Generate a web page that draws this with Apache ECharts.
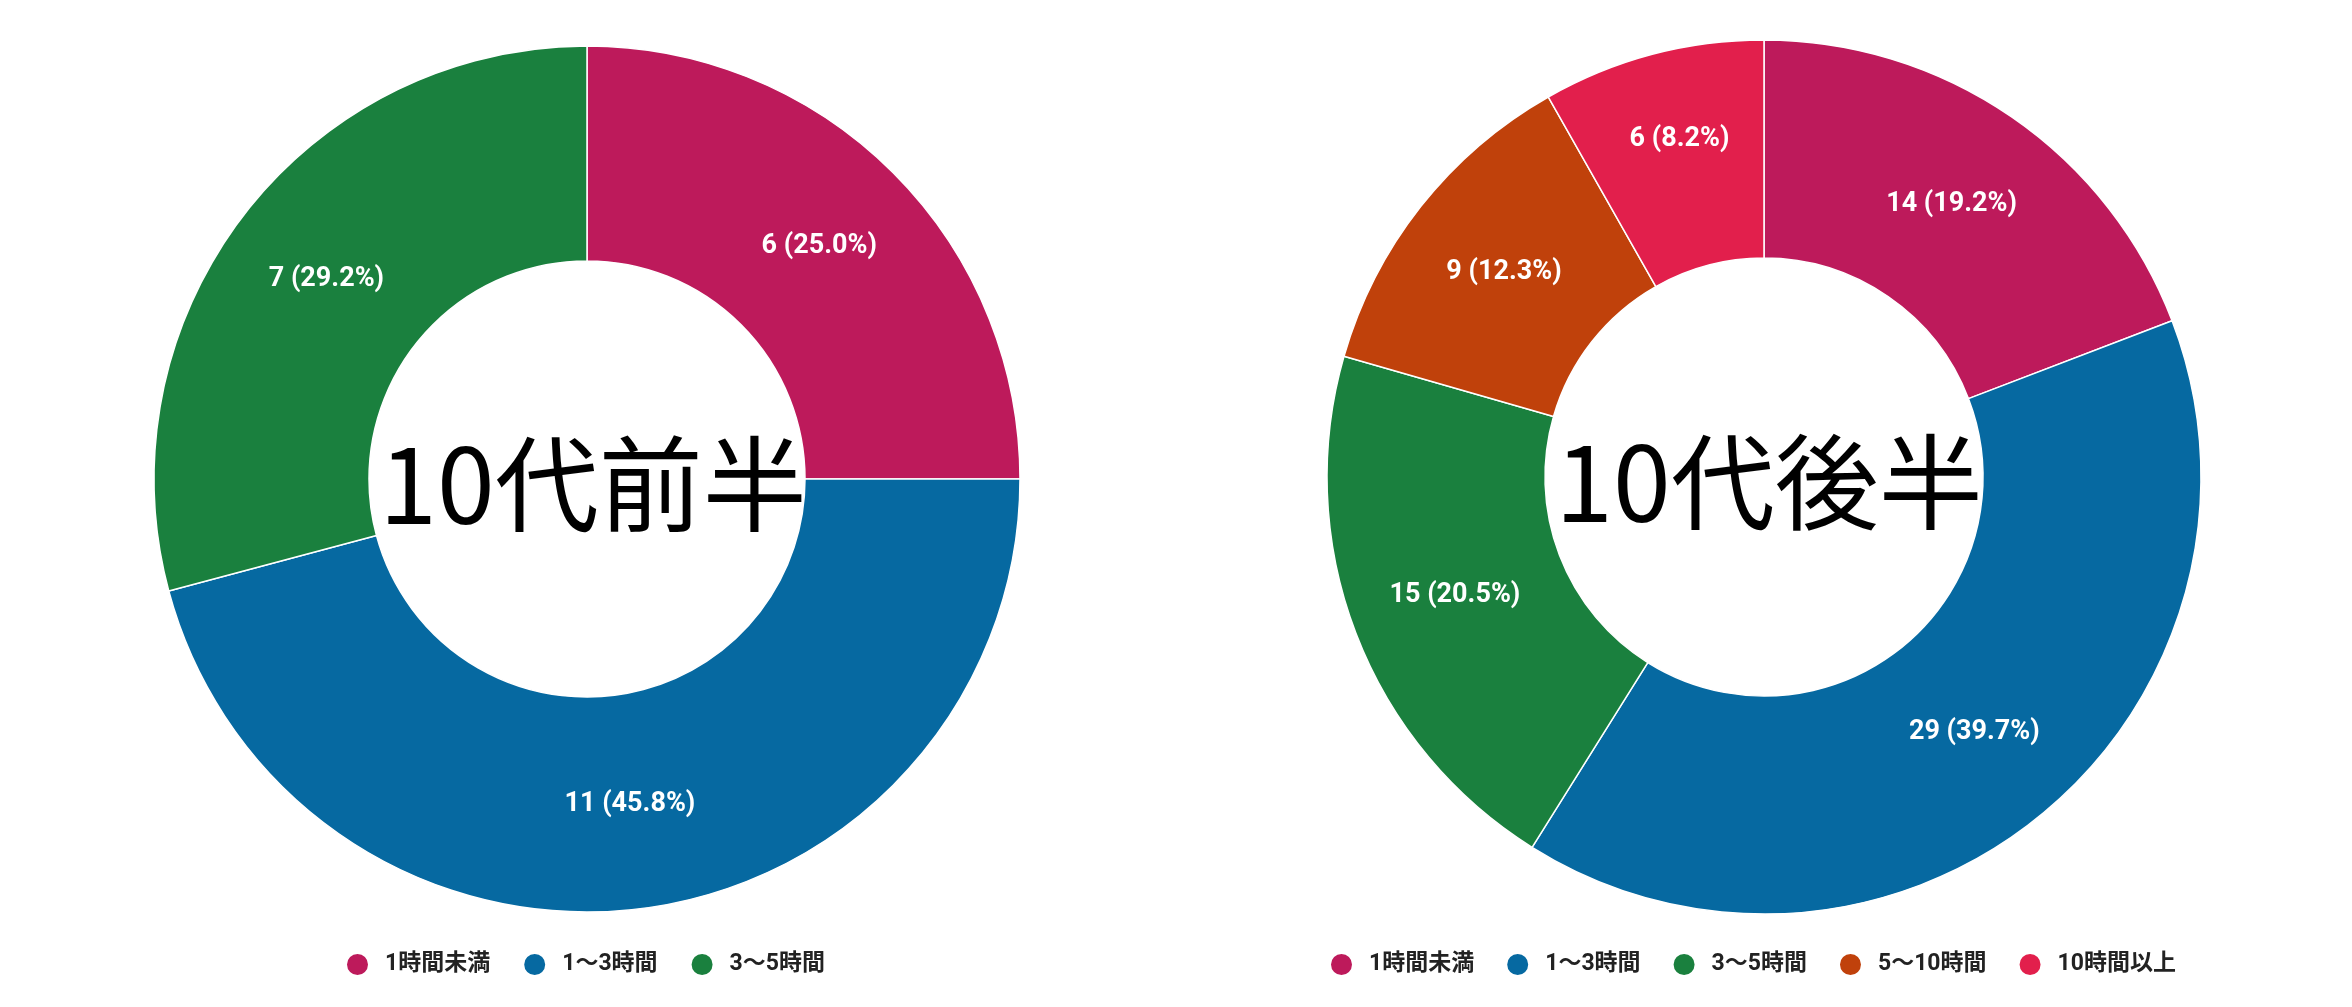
<!DOCTYPE html>
<html>
<head>
<meta charset="utf-8">
<script src="https://cdn.jsdelivr.net/npm/echarts@6/dist/echarts.min.js"></script>
<style>
html,body{margin:0;padding:0;background:#fff;}
#c{width:2352px;height:1007px;}
</style>
</head>
<body>
<div id="c"></div>
<script>
const categoriesLeft = ['1時間未満', '1〜3時間', '3〜5時間'];
const valuesLeft = [6, 11, 7];
const categoriesRight = ['1時間未満', '1〜3時間', '3〜5時間', '5〜10時間', '10時間以上'];
const valuesRight = [14, 29, 15, 9, 6];
const titleLeft = '10代前半';
const titleRight = '10代後半';
const colors = ['#BD1A5B', '#0669A1', '#1A803E', '#C0410B', '#E21F4C'];

const chart = echarts.init(document.getElementById('c'), null, {renderer: 'canvas'});

function makeData(cats, vals) {
  return cats.map((n, i) => ({name: n, value: vals[i], itemStyle: {color: colors[i]}}));
}
function makeFormatter(vals) {
  const sum = vals.reduce((a, b) => a + b, 0);
  return p => p.value + ' (' + (p.value / sum * 100).toFixed(1) + '%)';
}
const labelStyle = {
  show: true, position: 'inside', color: '#fff', fontWeight: 'bold',
  fontSize: 27, fontFamily: 'Roboto, "Noto Sans CJK JP", sans-serif'
};
const legendText = {
  color: '#222', fontWeight: 'bold', fontSize: 23,
  fontFamily: 'Roboto, "Noto Sans CJK JP", sans-serif',
  padding: [0, 0, 0, 11]
};
const titleText = {
  color: '#000', fontSize: 104, fontWeight: 'normal',
  fontFamily: '"Noto Sans CJK JP", sans-serif'
};

const rightFmt = makeFormatter(valuesRight);
const rightData = makeData(categoriesRight, valuesRight);
// the narrow last slice has its label placed further out in the reference
rightData[4].label = {formatter: p => rightFmt(p) + '\n', lineHeight: 36};

chart.setOption({
  animation: false,
  backgroundColor: '#fff',
  title: [
    {text: titleLeft, left: 588, top: 479, textAlign: 'center', textVerticalAlign: 'middle', textStyle: titleText},
    {text: titleRight, left: 1764, top: 477, textAlign: 'center', textVerticalAlign: 'middle', textStyle: titleText}
  ],
  legend: [
    {data: categoriesLeft, left: 340, top: 947, icon: 'circle', itemWidth: 23, itemHeight: 23, itemGap: 32, textStyle: legendText, selectedMode: false},
    {data: categoriesRight, left: 1324, top: 947, icon: 'circle', itemWidth: 23, itemHeight: 23, itemGap: 31, textStyle: legendText, selectedMode: false}
  ],
  series: [
    {
      type: 'pie', center: [587, 479], radius: [218, 433], startAngle: 90, clockwise: true,
      itemStyle: {borderColor: '#fff', borderWidth: 1.5},
      label: Object.assign({formatter: makeFormatter(valuesLeft)}, labelStyle),
      labelLine: {show: false}, emphasis: {disabled: true},
      data: makeData(categoriesLeft, valuesLeft)
    },
    {
      type: 'pie', center: [1764, 477], radius: [219, 437], startAngle: 90, clockwise: true,
      itemStyle: {borderColor: '#fff', borderWidth: 1.5},
      label: Object.assign({formatter: rightFmt}, labelStyle),
      labelLine: {show: false}, emphasis: {disabled: true},
      data: rightData
    }
  ]
});
</script>
</body>
</html>
